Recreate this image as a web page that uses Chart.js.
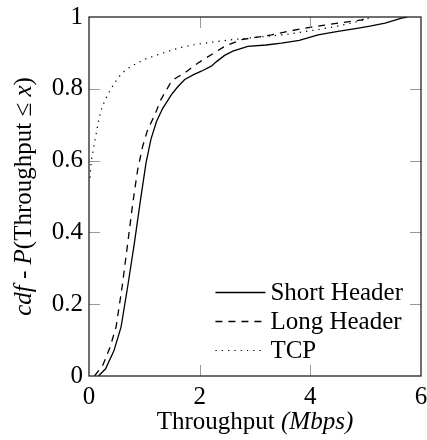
<!DOCTYPE html>
<html>
<head>
<meta charset="utf-8">
<script src="https://cdn.jsdelivr.net/npm/chart.js@4"></script>
<style>
    html, body { margin: 0; padding: 0; background: #fff; }
    #wrap { width: 427px; height: 440px; }
</style>
</head>
<body>
<div id="wrap"><canvas id="chart" width="427" height="440"></canvas></div>
<script>
// values (throughput in Mbps, cumulative share)
let shortX = [0.17, 0.3, 0.45, 0.58, 0.7, 0.82, 0.93, 1.03, 1.12, 1.22, 1.33, 1.49, 1.6, 1.73, 1.9, 2.03, 2.21, 2.3, 2.45, 2.6, 2.87, 3.2, 3.48, 3.8, 4.14, 4.5, 4.87, 5.1, 5.35, 5.65, 5.75];
let shortY = [0, 0.02, 0.07, 0.137, 0.25, 0.37, 0.49, 0.593, 0.66, 0.709, 0.745, 0.784, 0.805, 0.826, 0.84, 0.849, 0.863, 0.875, 0.893, 0.905, 0.918, 0.922, 0.927, 0.935, 0.95, 0.96, 0.969, 0.975, 0.983, 0.997, 1];

let longX = [0.1, 0.25, 0.38, 0.49, 0.6, 0.7, 0.79, 0.88, 0.97, 1.06, 1.19, 1.3, 1.49, 1.6, 1.73, 1.97, 2.21, 2.45, 2.75, 3.0, 3.3, 3.6, 3.9, 4.2, 4.5, 4.93, 5.05];
let longY = [0, 0.03, 0.08, 0.137, 0.25, 0.37, 0.48, 0.575, 0.64, 0.686, 0.728, 0.77, 0.821, 0.833, 0.844, 0.872, 0.895, 0.918, 0.937, 0.943, 0.95, 0.96, 0.969, 0.976, 0.983, 0.992, 1];

let tcpX = [0.02, 0.04, 0.1, 0.16, 0.21, 0.28, 0.36, 0.46, 0.55, 0.64, 0.75, 0.88, 1.05, 1.25, 1.5, 1.73, 2.0, 2.33, 2.6, 2.94, 3.2, 3.54, 3.8, 4.14, 4.4, 4.62, 4.8, 4.99, 5.1];
let tcpY = [0.552, 0.598, 0.65, 0.7, 0.737, 0.765, 0.79, 0.816, 0.835, 0.849, 0.862, 0.872, 0.885, 0.895, 0.908, 0.918, 0.925, 0.932, 0.937, 0.942, 0.946, 0.951, 0.957, 0.965, 0.972, 0.979, 0.985, 0.993, 1];

let seriesNames = ["Short Header", "Long Header", "TCP"];
let xTicks = [0, 2, 4, 6];
let yTicks = [0, 0.2, 0.4, 0.6, 0.8, 1];

const FONT = "Liberation Serif";
const FS = 25;

function toPoints(xs, ys) {
    return xs.map((x, i) => ({ x: x, y: ys[i] }));
}

// frame, inward tick marks and the legend drawn in the plot corner
const decor = {
    id: "decor",
    afterDatasetsDraw(chart) {
        let ctx = chart.ctx;
        let a = chart.chartArea;
        let sx = chart.scales.x;
        let sy = chart.scales.y;
        let tl = 11;

        ctx.save();
        ctx.strokeStyle = "#999";
        ctx.lineWidth = 1;
        xTicks.forEach(v => {
            if (v === xTicks[0] || v === xTicks[xTicks.length - 1]) return;
            let px = Math.round(sx.getPixelForValue(v)) + 0.5;
            ctx.beginPath();
            ctx.moveTo(px, a.bottom); ctx.lineTo(px, a.bottom - tl);
            ctx.moveTo(px, a.top); ctx.lineTo(px, a.top + tl);
            ctx.stroke();
        });
        yTicks.forEach(v => {
            if (v === yTicks[0] || v === yTicks[yTicks.length - 1]) return;
            let py = Math.round(sy.getPixelForValue(v)) + 0.5;
            ctx.beginPath();
            ctx.moveTo(a.left, py); ctx.lineTo(a.left + tl, py);
            ctx.moveTo(a.right, py); ctx.lineTo(a.right - tl, py);
            ctx.stroke();
        });

        ctx.strokeStyle = "#222";
        ctx.lineWidth = 1.3;
        ctx.strokeRect(a.left, a.top, a.right - a.left, a.bottom - a.top);

        // legend
        ctx.font = FS + "px '" + FONT + "'";
        ctx.textBaseline = "middle";
        ctx.fillStyle = "#000";
        let widths = seriesNames.map(n => ctx.measureText(n).width);
        let textX = a.right - 18 - Math.max(...widths);
        let rowH = 29;
        chart.data.datasets.forEach((ds, i) => {
            let y = a.bottom - 26 - (seriesNames.length - 1 - i) * rowH;
            ctx.save();
            ctx.strokeStyle = ds.borderColor;
            ctx.lineWidth = ds.borderWidth;
            ctx.setLineDash(ds.borderDash || []);
            ctx.beginPath();
            ctx.moveTo(textX - 55, y + 0.5);
            ctx.lineTo(textX - 5, y + 0.5);
            ctx.stroke();
            ctx.restore();
            ctx.fillText(ds.label, textX, y + 1);
        });
        ctx.restore();
    },
    afterDraw(chart) {
        let ctx = chart.ctx;
        let a = chart.chartArea;

        ctx.save();
        ctx.fillStyle = "#000";
        ctx.textBaseline = "alphabetic";

        // x title
        drawRich(ctx, [
            { t: "Throughput ", it: false },
            { t: "(Mbps)", it: true }
        ], (a.left + a.right) / 2, 429);

        // y title, rotated
        ctx.translate(31, (a.top + a.bottom) / 2);
        ctx.rotate(-Math.PI / 2);
        drawRich(ctx, [
            { t: "cdf", it: true },
            { t: " - ", it: false },
            { t: "P", it: true },
            { t: "(Throughput ≤ ", it: false },
            { t: "x", it: true },
            { t: ")", it: false }
        ], 0, 0);
        ctx.restore();
    }
};

function drawRich(ctx, parts, cx, y) {
    let total = 0;
    parts.forEach(p => {
        ctx.font = (p.it ? "italic " : "") + FS + "px '" + FONT + "'";
        p.w = ctx.measureText(p.t).width;
        total += p.w;
    });
    let x = cx - total / 2;
    ctx.textAlign = "left";
    parts.forEach(p => {
        ctx.font = (p.it ? "italic " : "") + FS + "px '" + FONT + "'";
        ctx.fillText(p.t, x, y);
        x += p.w;
    });
}

Chart.defaults.font.family = FONT;
Chart.defaults.font.size = FS;
Chart.defaults.color = "#000";

const chart = new Chart(document.getElementById("chart"), {
    type: "line",
    data: {
        datasets: [
            {
                label: seriesNames[0],
                data: toPoints(shortX, shortY),
                borderColor: "#000",
                borderWidth: 1.3,
                pointRadius: 0
            },
            {
                label: seriesNames[1],
                data: toPoints(longX, longY),
                borderColor: "#000",
                borderWidth: 1.3,
                borderDash: [7, 6],
                pointRadius: 0
            },
            {
                label: seriesNames[2],
                data: toPoints(tcpX, tcpY),
                borderColor: "#000",
                borderWidth: 1.2,
                borderDash: [1.3, 5],
                pointRadius: 0
            }
        ]
    },
    options: {
        responsive: false,
        animation: false,
        layout: { padding: { top: 17, right: 0, left: 0, bottom: 0 } },
        plugins: {
            legend: { display: false },
            tooltip: { enabled: false }
        },
        scales: {
            x: {
                type: "linear",
                min: 0,
                max: 6,
                afterBuildTicks: s => { s.ticks = xTicks.map(v => ({ value: v })); },
                ticks: { padding: 6, maxRotation: 0, callback: v => String(v) },
                grid: { display: false, drawTicks: false },
                border: { display: false },
                afterFit: s => { s.height = 64; s.paddingRight = 6; s.paddingLeft = 0; }
            },
            y: {
                min: 0,
                max: 1,
                afterBuildTicks: s => { s.ticks = yTicks.map(v => ({ value: v })); },
                ticks: { padding: 6, callback: v => String(v) },
                grid: { display: false, drawTicks: false },
                border: { display: false },
                afterFit: s => { s.width = 89; s.paddingTop = 0; s.paddingBottom = 0; }
            }
        }
    },
    plugins: [decor]
});
</script>
</body>
</html>
